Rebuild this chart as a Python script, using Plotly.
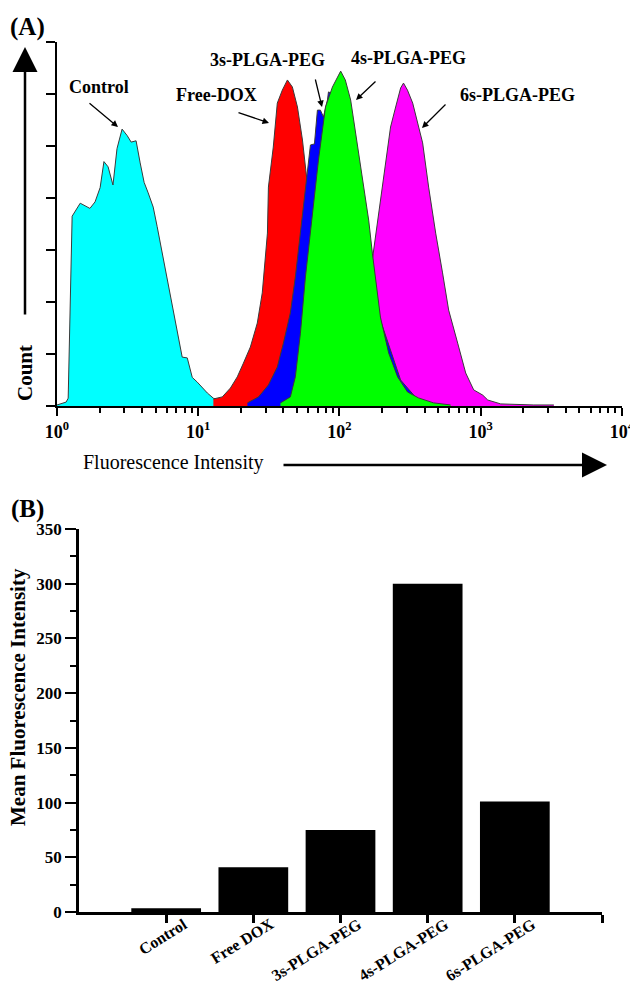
import plotly.graph_objects as go

W, H = 630, 984
SERIF = "Liberation Serif"

# ---- (A) flow cytometry histograms: fluorescence intensity vs. count ----
control_x = [1.0, 1.16, 1.20, 1.28, 1.46, 1.58, 1.71, 1.86, 2.02, 2.15, 2.30, 2.49, 2.66,
             2.89, 3.14, 3.35, 3.63, 3.88, 4.14, 4.42, 4.80, 5.12, 5.55, 6.03, 6.54, 7.10,
             7.70, 8.36, 9.07, 9.84, 10.7, 11.6, 12.8, 16.1, 24.5, 52.9]
control_y = [0.4, 1.5, 3, 73, 78, 77, 76, 78.5, 84, 94, 92, 85, 99,
             106.5, 104, 101.5, 102, 93.5, 86, 82, 76.5, 69, 59, 48.8, 38, 28,
             18.8, 18.5, 11, 9.2, 6.9, 5, 3, 1.2, 0.8, 0.4]

dox_x = [12.8, 14.8, 16.9, 18.9, 20.9, 23.4, 26.2, 28.4, 30.9, 31.4, 34.0, 36.3, 39.4,
         42.8, 46.4, 50.4, 54.7, 58.3, 64.4, 71.0, 79.6, 93.7, 120, 166]
dox_y = [2.7, 3.5, 6.9, 11.2, 16.5, 22.7, 31.9, 43.5, 66.5, 84.2, 99.6, 116.5, 121.5,
         125.4, 122.7, 115, 102.3, 89.6, 67.7, 40.8, 17.7, 4.2, 0.8, 0]

s3_x = [22.3, 26.7, 31.4, 36.3, 40.1, 44.9, 48.7, 52.9, 58.3, 62.3, 66.5, 69.8, 73.3,
        77.0, 82.2, 83.6, 93.7, 110, 141, 195, 271, 375, 520]
s3_y = [1.2, 3.5, 8.1, 15, 24.2, 35.8, 49.6, 66.5, 88, 100.4, 100.8, 113.8, 113.8,
        111.2, 117.7, 120.8, 119.6, 106, 71.5, 33, 10, 1.2, 0]

s4_x = [38.2, 44.9, 48.7, 52.9, 57.4, 64.4, 71.0, 79.6, 89.2, 102, 110, 120, 126,
        136, 148, 161, 171, 195, 223, 258, 303, 363, 464, 612]
s4_y = [1.2, 3.5, 11.2, 28, 49.6, 74.2, 94.6, 115, 122.7, 128.8, 125.4, 117.7, 110,
        97.3, 84.2, 71.5, 58.8, 34.2, 20.4, 11.2, 5.4, 3.1, 1.2, 0.4]

s6_x = [86.3, 120, 146, 171, 180, 195, 212, 230, 250, 271, 284, 303, 330, 357, 388,
        428, 480, 537, 593, 687, 783, 892, 1033, 1122, 1386, 2377, 3296]
s6_y = [0.4, 4.2, 29.2, 56.2, 66.5, 79.2, 94.6, 107.3, 115, 122.3, 124.2, 121.5, 116.5,
        108.8, 101.2, 84.2, 66.5, 51.2, 36.9, 24.2, 12.7, 6.2, 4.2, 2.3, 0.8, 0.4, 0.4]

decade_ticks = [1, 10, 100, 1000, 10000]
decade_labels = ["10<sup>0</sup>", "10<sup>1</sup>", "10<sup>2</sup>", "10<sup>3</sup>", "10<sup>4</sup>"]
minor_ticks = [m * d for d in [1, 10, 100, 1000] for m in range(2, 10)]
count_ticks = list(range(0, 141, 20))

# ---- (B) mean fluorescence intensity ----
categories = ["Control", "Free DOX", "3s-PLGA-PEG", "4s-PLGA-PEG", "6s-PLGA-PEG"]
mfi = [3.5, 41, 75, 300, 101]
positions = list(range(1, len(categories) + 1))


def px(x):
    return x / W


def py(y):
    return 1 - y / H


fig = go.Figure()

# drawing order: later traces sit in front
hist_series = [
    ("Control", control_x, control_y, "#00FFFF"),
    ("6s-PLGA-PEG", s6_x, s6_y, "#FF00FF"),
    ("Free-DOX", dox_x, dox_y, "#FF0000"),
    ("3s-PLGA-PEG", s3_x, s3_y, "#0000FF"),
    ("4s-PLGA-PEG", s4_x, s4_y, "#00FF00"),
]
for name, xs, ys, col in hist_series:
    fig.add_trace(go.Scatter(
        x=xs, y=ys, name=name, mode="lines", fill="tozeroy",
        fillcolor=col, line=dict(color="#3a3a3a", width=1),
        xaxis="x", yaxis="y", showlegend=False, hoverinfo="skip"))

fig.add_trace(go.Bar(
    x=positions, y=mfi, width=0.8, marker=dict(color="black", line=dict(width=0)),
    xaxis="x2", yaxis="y2", showlegend=False))

axis_font = dict(family=SERIF, size=18, color="black", weight="bold")

fig.update_layout(
    template="none",
    width=W, height=H,
    margin=dict(l=0, r=0, t=0, b=0, pad=0, autoexpand=False),
    paper_bgcolor="white", plot_bgcolor="white",
    xaxis=dict(
        domain=[px(57), px(622)], anchor="y", type="log", range=[0, 4.0005],
        automargin=False, ticklabeloverflow="allow",
        tickvals=decade_ticks, ticktext=decade_labels,
        ticks="outside", ticklen=8, tickwidth=1.5, tickcolor="black",
        minor=dict(tickvals=minor_ticks, ticks="outside", ticklen=5,
                   tickwidth=1.5, tickcolor="black", showgrid=False),
        showline=True, linewidth=2, linecolor="black",
        showgrid=False, zeroline=False, tickfont=axis_font),
    yaxis=dict(
        domain=[py(406), py(42)], anchor="x", range=[0, 140],
        automargin=False,
        tickvals=count_ticks, showticklabels=False,
        ticks="outside", ticklen=9, tickwidth=1.5, tickcolor="black",
        showline=True, linewidth=2, linecolor="black",
        showgrid=False, zeroline=False),
    xaxis2=dict(
        domain=[px(79), px(602)], anchor="y2", range=[0, 6],
        automargin=False, showticklabels=False,
        tickvals=positions + [6],
        ticks="outside", ticklen=8, tickwidth=2.5, tickcolor="black",
        showline=True, linewidth=2.5, linecolor="black",
        showgrid=False, zeroline=False),
    yaxis2=dict(
        domain=[py(912), py(529)], anchor="x2", range=[0, 350],
        automargin=False,
        tickvals=list(range(0, 351, 50)),
        ticks="outside", ticklen=11, tickwidth=2.3, tickcolor="black",
        minor=dict(dtick=25, ticks="outside", ticklen=6, tickwidth=2,
                   tickcolor="black", showgrid=False),
        showline=True, linewidth=2.5, linecolor="black",
        showgrid=False, zeroline=False,
        tickfont=dict(family=SERIF, size=17, color="black", weight="bold")),
)

annotations = []


def label(text, x, y, size, bold=True, angle=0):
    annotations.append(dict(
        text=text, x=px(x), y=py(y), xref="paper", yref="paper",
        xanchor="center", yanchor="middle", showarrow=False, textangle=angle,
        font=dict(family=SERIF, size=size, color="black",
                  weight="bold" if bold else "normal")))


def arrow(tail, tip, width=1.3, size=1.0, head=2):
    annotations.append(dict(
        text="", x=px(tip[0]), y=py(tip[1]), xref="paper", yref="paper",
        ax=tail[0] - tip[0], ay=tail[1] - tip[1], axref="pixel", ayref="pixel",
        showarrow=True, arrowhead=head, arrowsize=size, arrowwidth=width,
        arrowcolor="black", standoff=0, startstandoff=0))


# panel letters
label("(A)", 27, 27, 25)
label("(B)", 27, 509, 25)

# axis titles of panel A with direction arrows
label("Count", 25, 373, 21, angle=-90)
arrow((25, 316), (25, 47), width=2.5, size=2)
label("Fluorescence Intensity", 173, 463, 20, bold=False)
arrow((282, 465), (607, 465), width=2.5, size=2)

# sample labels with pointer arrows
label("Control", 99, 87, 18)
arrow((88, 102), (118, 127))
label("Free-DOX", 216, 95, 18)
arrow((237, 112), (269, 123))
label("3s-PLGA-PEG", 267, 60, 18)
arrow((315, 78), (322, 107))
label("4s-PLGA-PEG", 408, 58, 18)
arrow((377, 80), (356, 100))
label("6s-PLGA-PEG", 517, 95, 18)
arrow((447, 103), (422, 128))

# slanted category labels under the bars, hung from each category tick
for pos, cat in zip(positions, categories):
    annotations.append(dict(
        text=cat, x=pos, y=0, xref="x2", yref="y2",
        xanchor="right", yanchor="top", xshift=27, yshift=0,
        showarrow=False, textangle=-32,
        font=dict(family=SERIF, size=16, color="black", weight="bold")))

# panel B y title
label("Mean Fluorescence Intensity", 18, 697, 21, angle=-90)

fig.update_layout(annotations=annotations)

fig.write_html(
    "out.html",
    post_script=("document.documentElement.style.margin='0';"
                 "document.body.style.margin='0';document.body.style.padding='0';"))
